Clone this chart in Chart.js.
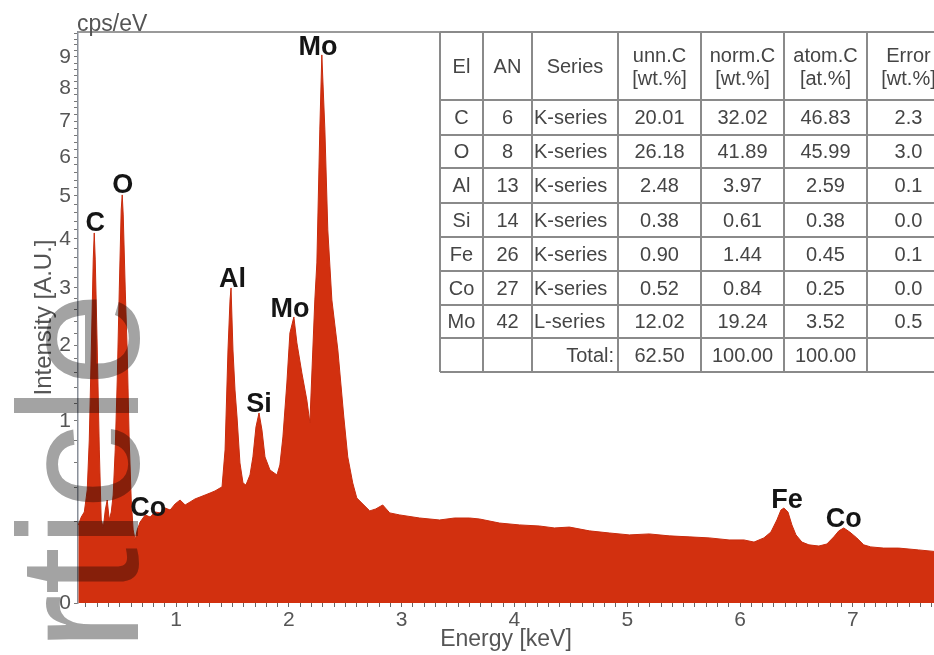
<!DOCTYPE html>
<html>
<head>
<meta charset="utf-8">
<script src="https://cdn.jsdelivr.net/npm/chart.js@4/dist/chart.umd.min.js"></script>
<style>
  html, body { margin: 0; padding: 0; background: #fff; overflow: hidden; }
  #wrap { width: 934px; height: 655px; position: relative; }
</style>
</head>
<body>
<div id="wrap"><canvas id="c" width="934" height="655"></canvas></div>
<script>
// ---------- DATA ----------
const energy = [0.133,0.159,0.186,0.212,0.230,0.248,0.265,0.274,0.283,0.301,
  0.319,0.336,0.354,0.372,0.389,0.407,0.425,0.442,0.460,0.478,
  0.496,0.513,0.522,0.531,0.549,0.566,0.584,0.602,0.619,0.637,
  0.655,0.681,0.726,0.770,0.814,0.858,0.903,0.947,0.991,1.035,
  1.080,1.124,1.168,1.212,1.257,1.301,1.345,1.389,1.407,1.434,
  1.460,1.478,1.487,1.504,1.522,1.540,1.566,1.593,1.619,1.655,
  1.681,1.708,1.735,1.761,1.788,1.832,1.894,1.920,1.947,1.982,
  2.009,2.044,2.071,2.115,2.159,2.186,2.212,2.230,2.248,2.274,
  2.292,2.319,2.345,2.381,2.434,2.487,2.522,2.566,2.602,2.646,
  2.717,2.770,2.832,2.894,2.982,3.159,3.336,3.469,3.602,3.690,
  3.867,4.044,4.221,4.354,4.487,4.664,4.841,5.018,5.195,5.372,
  5.549,5.726,5.903,6.035,6.124,6.212,6.274,6.327,6.363,6.389,
  6.425,6.460,6.496,6.549,6.611,6.699,6.770,6.832,6.876,6.920,
  6.973,7.035,7.097,7.159,7.274,7.407,7.584,7.761];
const intensity = [0.184,0.223,0.250,0.386,0.802,1.932,3.552,4.133,3.552,1.932,
  0.707,0.208,0.170,0.261,0.320,0.208,0.250,0.352,0.707,1.501,
  2.958,4.663,5.026,4.545,2.958,1.932,0.802,0.320,0.161,0.120,
  0.161,0.198,0.234,0.223,0.250,0.245,0.272,0.261,0.296,0.320,
  0.290,0.308,0.327,0.339,0.352,0.365,0.379,0.399,0.406,0.707,
  1.932,2.772,2.996,1.932,1.370,1.044,0.592,0.435,0.420,0.495,
  0.644,0.935,1.090,0.904,0.644,0.534,0.495,0.575,0.832,1.461,
  2.201,2.469,2.041,1.597,1.244,0.978,1.932,2.772,3.490,6.754,
  9.066,6.754,4.200,2.772,1.932,1.044,0.644,0.435,0.333,0.302,
  0.256,0.267,0.290,0.245,0.234,0.218,0.208,0.218,0.218,0.213,
  0.193,0.184,0.179,0.170,0.174,0.157,0.148,0.140,0.144,0.136,
  0.132,0.128,0.120,0.120,0.112,0.128,0.152,0.208,0.261,0.272,
  0.250,0.184,0.140,0.112,0.102,0.098,0.105,0.132,0.157,0.170,
  0.152,0.128,0.102,0.095,0.091,0.091,0.085,0.079];

const xTickLabels = ['1','2','3','4','5','6','7'];
const yTickLabels = ['0','1','2','3','4','5','6','7','8','9'];

const peakNames = ['C','O','Co','Al','Si','Mo','Mo','Fe','Co'];
const peakLabelE = [0.283,0.527,0.752,1.500,1.735,2.009,2.257,6.416,6.920];
const peakLabelV = [4.18,5.075,0.228,3.015,1.101,2.469,9.066,0.272,0.174];

const tblHead1 = ['El','AN','Series','unn.C','norm.C','atom.C','Error'];
const tblHead2 = ['','','','[wt.%]','[wt.%]','[at.%]','[wt.%]'];
const tblEl = ['C','O','Al','Si','Fe','Co','Mo'];
const tblAN = ['6','8','13','14','26','27','42'];
const tblSeries = ['K-series','K-series','K-series','K-series','K-series','K-series','L-series'];
const tblUnn = ['20.01','26.18','2.48','0.38','0.90','0.52','12.02'];
const tblNorm = ['32.02','41.89','3.97','0.61','1.44','0.84','19.24'];
const tblAtom = ['46.83','45.99','2.59','0.38','0.45','0.25','3.52'];
const tblErr = ['2.3','3.0','0.1','0.0','0.1','0.0','0.5'];
const tblTotal = ['Total:','62.50','100.00','100.00'];

const xTitle = 'Energy [keV]';
const yTitle = 'Intensity [A.U.]';
const unitLabel = 'cps/eV';
const watermark = 'rticle';

// ---------- SQRT SCALE ----------
class SqrtScale extends Chart.LinearScale {
  getPixelForValue(value) {
    const s0 = Math.sqrt(Math.max(0, this.min)), s1 = Math.sqrt(Math.max(0, this.max));
    const v = Math.sqrt(Math.max(0, value));
    return this.getPixelForDecimal((v - s0) / (s1 - s0));
  }
  getValueForPixel(pixel) {
    const s0 = Math.sqrt(Math.max(0, this.min)), s1 = Math.sqrt(Math.max(0, this.max));
    const s = s0 + this.getDecimalForPixel(pixel) * (s1 - s0);
    return s * s;
  }
}
SqrtScale.id = 'sqrt';
Chart.register(SqrtScale);

const FONT = '"Liberation Sans", Arial, Helvetica, sans-serif';

const overlay = {
  id: 'overlay',
  afterDraw(chart) {
    const ctx = chart.ctx, xs = chart.scales.x, ys = chart.scales.y, ca = chart.chartArea;
    ctx.save();
    // top frame
    ctx.strokeStyle = '#9a9a9a'; ctx.lineWidth = 2;
    ctx.beginPath(); ctx.moveTo(ca.left, ca.top); ctx.lineTo(ca.right, ca.top); ctx.stroke();
    // unit label
    ctx.fillStyle = '#555'; ctx.font = '23px ' + FONT;
    ctx.textAlign = 'left'; ctx.textBaseline = 'alphabetic';
    ctx.fillText(unitLabel, ca.left - 1, ca.top - 1);
    // peak labels
    ctx.fillStyle = '#151515'; ctx.font = 'bold 27px ' + FONT; ctx.textAlign = 'center';
    for (let i = 0; i < peakNames.length; i++) {
      ctx.fillText(peakNames[i], xs.getPixelForValue(peakLabelE[i]), ys.getPixelForValue(peakLabelV[i]));
    }
    // table
    const cx = [440,483,532,618,701,784,867,950];
    const ry = [32,100,135,168,203,237,271,305,338,372];
    ctx.fillStyle = '#fff';
    ctx.fillRect(cx[0], ry[0], 934 - cx[0], ry[ry.length-1] - ry[0]);
    ctx.strokeStyle = '#8a8a8a'; ctx.lineWidth = 2;
    ctx.beginPath();
    for (const y of ry) { ctx.moveTo(cx[0], y); ctx.lineTo(cx[cx.length-1], y); }
    for (const x of cx) { ctx.moveTo(x, ry[0]); ctx.lineTo(x, ry[ry.length-1]); }
    ctx.stroke();
    ctx.fillStyle = '#454545'; ctx.font = '20px ' + FONT; ctx.textBaseline = 'middle';
    const mid = j => (cx[j] + cx[j+1]) / 2;
    for (let j = 0; j < 7; j++) {
      ctx.textAlign = 'center';
      if (tblHead2[j]) {
        ctx.fillText(tblHead1[j], mid(j), 56);
        ctx.fillText(tblHead2[j], mid(j), 79);
      } else {
        ctx.fillText(tblHead1[j], mid(j), 67);
      }
    }
    const cols = [tblEl, tblAN, tblSeries, tblUnn, tblNorm, tblAtom, tblErr];
    for (let r = 0; r < tblEl.length; r++) {
      const y = (ry[r+1] + ry[r+2]) / 2 + 1;
      for (let j = 0; j < 7; j++) {
        if (j === 2) { ctx.textAlign = 'left'; ctx.fillText(cols[j][r], cx[2] + 2, y); }
        else { ctx.textAlign = 'center'; ctx.fillText(cols[j][r], mid(j), y); }
      }
    }
    const ty = (ry[8] + ry[9]) / 2 + 1;
    ctx.textAlign = 'right'; ctx.fillText(tblTotal[0], cx[3] - 4, ty);
    ctx.textAlign = 'center';
    for (let k = 1; k < 4; k++) ctx.fillText(tblTotal[k], mid(k + 2), ty);
    // watermark
    ctx.globalCompositeOperation = 'multiply';
    ctx.fillStyle = '#a3a3a3';
    ctx.font = '170px ' + FONT;
    ctx.textAlign = 'left'; ctx.textBaseline = 'alphabetic';
    ctx.translate(138, 651); ctx.rotate(-Math.PI / 2);
    ctx.fillText(watermark, 0, 0);
    ctx.restore();
  }
};

const isInt = v => Math.abs(v - Math.round(v)) < 1e-6;

new Chart(document.getElementById('c'), {
  type: 'line',
  data: {
    datasets: [{
      data: energy.map((e, i) => ({ x: e, y: intensity[i] })),
      fill: 'origin',
      backgroundColor: '#d2300f',
      borderColor: '#c82b0d',
      borderWidth: 1,
      pointRadius: 0,
      tension: 0
    }]
  },
  options: {
    responsive: false,
    animation: false,
    devicePixelRatio: 1,
    layout: { padding: { top: 32, right: 0, left: 0, bottom: 0 } },
    plugins: { legend: { display: false }, tooltip: { enabled: false } },
    scales: {
      x: {
        type: 'linear', min: 0.13, max: 7.72,
        afterBuildTicks: s => {
          const t = [];
          for (let k = 2; k <= 77; k++) t.push({ value: k / 10 });
          s.ticks = t;
        },
        afterFit: s => { s.height = 52; },
        ticks: {
          autoSkip: false, maxRotation: 0, padding: 1, color: '#555',
          font: { size: 21, family: FONT },
          callback: v => (isInt(v) && xTickLabels.includes(String(Math.round(v)))) ? String(Math.round(v)) : ''
        },
        grid: { drawOnChartArea: false, tickLength: 4, tickColor: '#666', tickWidth: 1 },
        border: { display: false },
        title: { display: true, text: xTitle, color: '#555', font: { size: 23, family: FONT }, padding: { top: 0, bottom: 2 } }
      },
      y: {
        type: 'sqrt', min: 0, max: 9.84,
        afterBuildTicks: s => {
          const t = [];
          for (let k = 0; k <= 49; k++) t.push({ value: k / 5 });
          s.ticks = t;
        },
        afterFit: s => { s.width = 78; },
        ticks: {
          autoSkip: false, padding: 3, color: '#555',
          font: { size: 21, family: FONT },
          callback: v => (isInt(v) && yTickLabels.includes(String(Math.round(v)))) ? String(Math.round(v)) : ''
        },
        grid: { drawOnChartArea: false, tickLength: 4, tickColor: '#777', tickWidth: 1 },
        border: { display: true, color: '#8a909a', width: 1.5 },
        title: { display: true, text: yTitle, color: '#555', font: { size: 24, family: FONT }, padding: { top: 30, bottom: 0 } }
      }
    }
  },
  plugins: [overlay]
});
</script>
</body>
</html>
